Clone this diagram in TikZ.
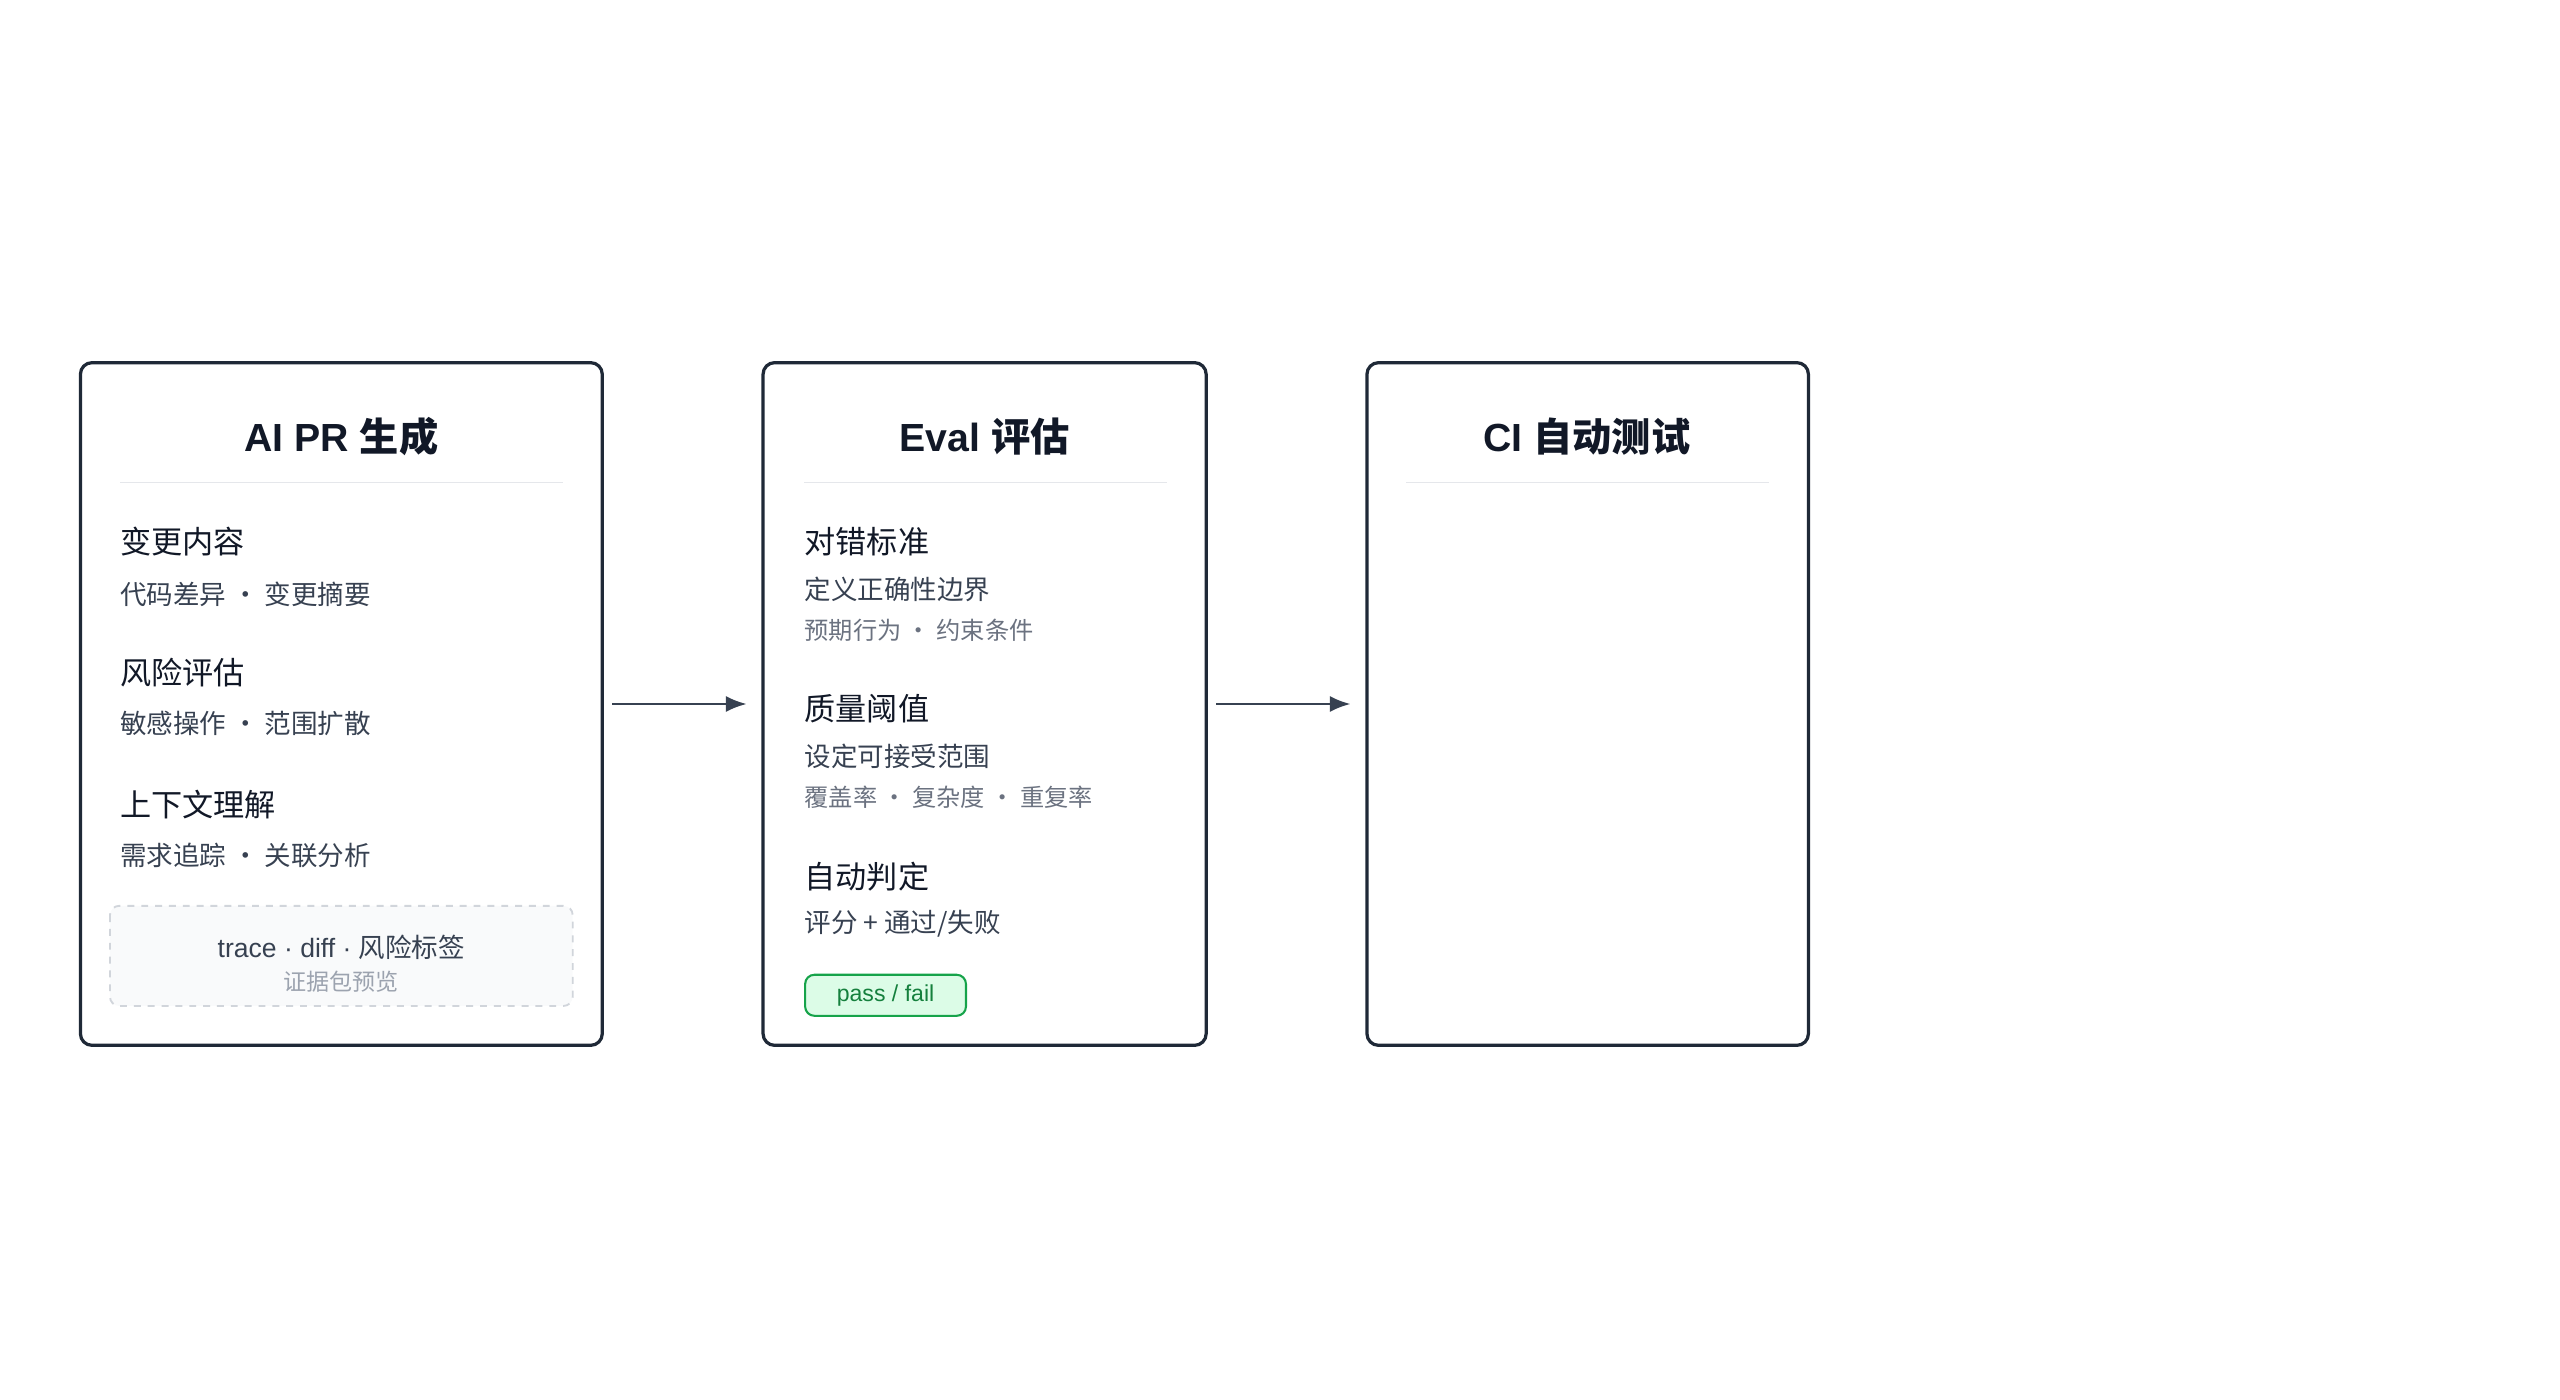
\documentclass[tikz,border=0pt]{standalone}
\usepackage{fontspec}
\setmainfont{Liberation Sans}
\newfontfamily\cjk{Noto Sans CJK SC}
\usetikzlibrary{positioning,arrows.meta}
\definecolor{edgedark}{HTML}{1F2937}
\definecolor{inkdark}{HTML}{111827}
\definecolor{inksub}{HTML}{374151}
\definecolor{inkgray}{HTML}{6B7280}
\definecolor{inklight}{HTML}{9CA3AF}
\definecolor{rulegray}{HTML}{E5E7EB}
\definecolor{dashgray}{HTML}{D1D5DB}
\definecolor{dashfill}{HTML}{F9FAFB}
\definecolor{passfill}{HTML}{DCFCE7}
\definecolor{passedge}{HTML}{16A34A}
\definecolor{passtext}{HTML}{15803D}
\tikzset{
  stage/.style={draw=edgedark, line width=1.4pt, rounded corners=5pt},
  title/.style={font=\fontsize{17}{20}\selectfont\bfseries, text=inkdark},
  head/.style={anchor=west, inner sep=0pt, font=\cjk\fontsize{13.5}{16}\selectfont, text=inkdark},
  sub/.style={anchor=west, inner sep=0pt, font=\cjk\fontsize{11.5}{14}\selectfont, text=inksub},
  note/.style={anchor=west, inner sep=0pt, font=\cjk\fontsize{10.5}{13}\selectfont, text=inkgray},
  flow/.style={-{Latex[length=9pt,width=7pt]}, draw=inksub, line width=1.1pt}
}
\begin{document}
\begin{tikzpicture}[x=0.025cm, y=-0.025cm]
    \useasboundingbox (0,0) rectangle (1560,853);

    % stage boxes
    \draw[stage] (49,221) rectangle (367,637);
    \draw[stage] (465,221) rectangle (735,637);
    \draw[stage] (833,221) rectangle (1102,637);
    \coordinate (S1w) at (367,429);
    \coordinate (S2e) at (465,429);
    \coordinate (S2w) at (735,429);
    \coordinate (S3e) at (833,429);

    \node[title] (T1) at (208,266) {AI PR {\cjk\bfseries 生成}};
    \node[title] (T2) at (600,266) {Eval {\cjk\bfseries 评估}};
    \node[title] (T3) at (967,266) {CI {\cjk\bfseries 自动测试}};
    \draw[rulegray, line width=0.8pt] (73,294) -- (343,294);
    \draw[rulegray, line width=0.8pt] (490,294) -- (711,294);
    \draw[rulegray, line width=0.8pt] (857,294) -- (1078,294);

    % AI PR items
    \node[head] (A1) at (73,330) {变更内容};
    \node[sub] (A1s) at (73,362) {代码差异 · 变更摘要};
    \node[head] (A2) at (73,410) {风险评估};
    \node[sub] (A2s) at (73,441) {敏感操作 · 范围扩散};
    \node[head] (A3) at (73,490) {上下文理解};
    \node[sub] (A3s) at (73,521) {需求追踪 · 关联分析};
    \draw[draw=dashgray, fill=dashfill, dashed, line width=0.8pt, rounded corners=4pt] (67,552) rectangle (349,613);
    \node[inner sep=0pt, font=\fontsize{11.5}{14}\selectfont, text=inksub] (EV) at (208,577) {trace · diff · {\cjk 风险标签}};
    \node[inner sep=0pt, font=\cjk\fontsize{10}{12}\selectfont, text=inklight] (EVs) at (208,598) {证据包预览};

    % Eval items
    \node[head] (B1) at (490,330) {对错标准};
    \node[sub] (B1s) at (490,359) {定义正确性边界};
    \node[note] (B1n) at (490,384) {预期行为 · 约束条件};
    \node[head] (B2) at (490,432) {质量阈值};
    \node[sub] (B2s) at (490,461) {设定可接受范围};
    \node[note] (B2n) at (490,486) {覆盖率 · 复杂度 · 重复率};
    \node[head] (B3) at (490,534) {自动判定};
    \node[sub] (B3s) at (490,563) {评分 + 通过/失败};
    \node[anchor=west, draw=passedge, fill=passfill, text=passtext, rounded corners=4pt,
          line width=0.9pt, minimum width=98*0.025cm, minimum height=25*0.025cm,
          font=\fontsize{10}{12}\selectfont] (PF) at (490,606.5) {pass / fail};

    % flow
    \draw[flow] ([xshift=6*0.025cm]S1w) -- ([xshift=-10*0.025cm]S2e);
    \draw[flow] ([xshift=6*0.025cm]S2w) -- ([xshift=-10*0.025cm]S3e);
\end{tikzpicture}
\end{document}
